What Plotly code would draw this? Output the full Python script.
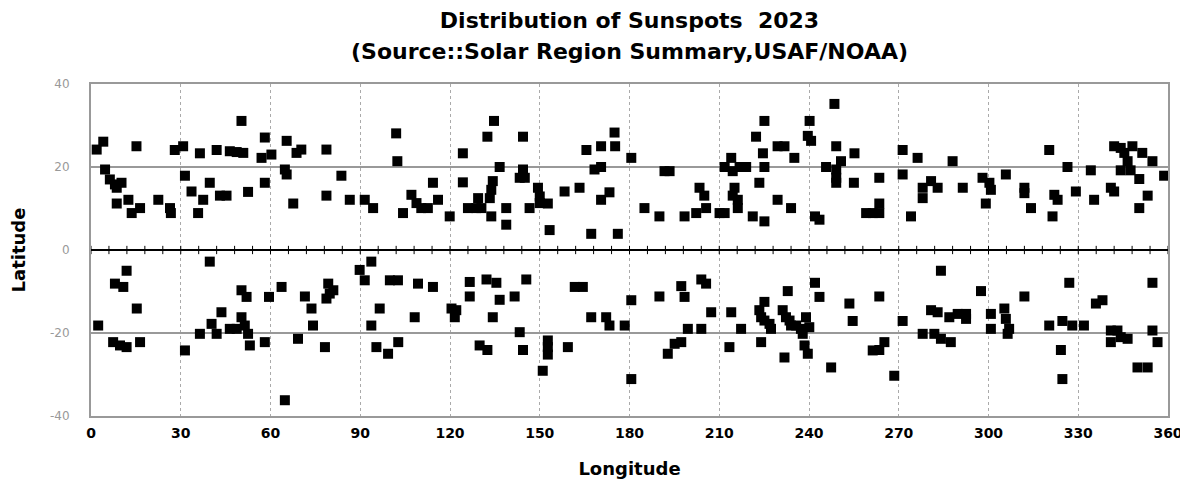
import plotly.graph_objects as go

# Northern hemisphere spots (longitude, latitude)
north_lon = [1.9, 4.1, 4.7, 6.3, 8.0, 10.2, 8.6, 8.6, 12.5, 13.6, 16.4, 15.2, 22.5, 26.4, 26.7,
             28.0, 30.8, 31.4, 33.6, 35.8, 36.4, 37.5, 39.7, 42.0, 43.1, 45.3, 46.4, 48.7, 50.9,
             50.3, 52.5, 57.0, 58.1, 58.1, 60.3, 65.4, 64.8, 65.4, 67.6, 68.7, 70.3, 78.7, 78.7,
             83.7, 86.5, 91.5, 94.3, 102.0, 102.4, 104.3, 107.1, 108.8, 110.4, 112.6, 114.3, 116.0,
             119.9, 124.3, 124.3, 126.0, 128.8, 130.5, 129.4, 133.3, 133.8, 134.3, 133.8, 132.5,
             134.7, 136.6, 138.8, 138.8, 144.4, 144.4, 143.3, 145.0, 146.6, 149.4, 150.0, 150.0,
             152.7, 153.3, 158.3, 163.3, 165.6, 167.2, 168.3, 170.5, 170.5, 170.5, 173.3, 175.0,
             175.2, 176.1, 180.6, 185.0, 190.0, 191.7, 193.4, 198.4, 202.3, 203.4, 205.0, 205.6,
             210.1, 211.8, 211.8, 214.0, 214.5, 216.8, 219.0, 215.1, 214.5, 216.2, 216.2, 221.2,
             222.3, 223.4, 224.6, 225.1, 225.1, 225.1, 229.5, 231.8, 229.5, 234.0, 235.1, 239.6,
             240.2, 240.7, 242.0, 243.5, 245.7, 248.5, 249.1, 249.1, 250.7, 249.1, 249.1, 255.0,
             255.2, 259.1, 261.3, 263.5, 263.5, 263.5, 271.3, 271.3, 274.1, 276.3, 278.0, 278.0,
             280.8, 283.0, 288.0, 291.4, 298.0, 300.3, 299.1, 300.8, 305.8, 312.0, 312.0, 314.2,
             320.3, 321.4, 322.0, 323.1, 326.4, 329.2, 334.2, 335.3, 340.9, 342.0, 342.0, 344.2,
             348.1, 351.4, 354.8, 345.4, 346.5, 344.2, 347.5, 350.4, 353.2, 350.4, 358.7]
north_lat = [24.2, 26.1, 19.4, 17.0, 15.8, 16.2, 15.0, 11.2, 12.1, 8.9, 10.1, 25.0, 12.1, 10.1, 8.9,
             24.1, 25.0, 17.9, 14.1, 8.9, 23.3, 12.1, 16.2, 24.1, 13.1, 13.1, 23.8, 23.6, 23.4,
             31.1, 14.0, 22.2, 27.1, 16.2, 23.0, 26.3, 19.4, 18.2, 11.2, 23.4, 24.2, 24.2, 13.1,
             17.9, 12.1, 12.1, 10.1, 28.1, 21.4, 8.9, 13.3, 11.3, 10.1, 10.1, 16.2, 12.1,
             8.1, 23.3, 16.3, 10.1, 10.1, 10.1, 12.5, 12.5, 14.5, 16.6, 8.1, 27.3,
             31.1, 20.0, 10.1, 6.1, 27.3, 19.4, 17.4, 17.4, 10.1, 15.0, 12.9, 11.3,
             11.2, 4.8, 14.1, 15.0, 24.1, 3.9, 19.4, 20.0, 25.0, 12.1, 13.9, 28.3,
             25.0, 3.9, 22.2, 10.1, 8.1, 19.0, 19.0, 8.1, 8.9, 15.0, 13.1, 10.1,
             8.9, 8.9, 20.0, 22.2, 19.0, 20.0, 20.0, 15.0, 13.1, 12.1, 10.1, 8.1,
             27.3, 16.2, 23.3, 31.1, 20.0, 6.9, 25.0, 25.0, 12.1, 10.1, 22.2, 27.5,
             31.1, 26.3, 8.1, 7.3, 20.0, 35.2, 25.0, 19.4, 21.4, 17.4, 16.2, 16.2,
             23.3, 8.9, 8.9, 8.9, 11.2, 17.4, 24.1, 18.2, 8.1, 22.2, 15.0, 12.5,
             16.6, 15.0, 21.4, 15.0, 17.4, 16.2, 11.2, 14.5, 18.2, 15.0, 13.7, 10.1,
             24.1, 8.1, 13.3, 12.1, 20.0, 14.1, 19.2, 12.1, 15.0, 14.1, 25.0, 24.6,
             25.0, 23.4, 21.4, 23.4, 21.4, 19.2, 19.2, 17.1, 13.1, 10.1, 17.9]

# Southern hemisphere spots (longitude, latitude)
south_lon = [2.4, 7.4, 8.0, 9.7, 10.8, 11.9, 11.9, 15.3, 16.4, 31.4, 36.4, 39.7, 40.3, 42.0, 43.6,
             46.4, 48.7, 50.3, 50.3, 51.4, 52.0, 52.5, 53.1, 58.1, 59.5, 63.7, 64.8, 69.2, 71.5,
             73.7, 74.2, 78.2, 78.7, 79.3, 79.8, 81.0, 89.8, 91.5, 93.7, 93.7, 95.4, 96.5, 99.3,
             99.9, 102.6, 102.7, 108.2, 109.3, 114.3, 120.5, 122.1, 121.6, 126.6, 126.6, 129.9,
             132.2, 132.5, 134.3, 135.5, 136.6, 141.6, 143.3, 144.4, 145.5, 151.0, 152.7, 152.7,
             152.7, 159.4, 161.7, 164.4, 167.2, 172.2, 173.3, 178.4, 180.6, 180.6, 190.0, 192.8,
             195.1, 197.3, 197.3, 198.4, 199.5, 204.0, 204.0, 205.6, 207.3, 213.4, 214.0, 217.3,
             223.4, 224.0, 225.1, 225.1, 226.8, 227.3, 224.0, 231.2, 232.3, 233.5, 234.0, 235.7,
             237.3, 237.9, 231.8, 232.9, 239.0, 240.1, 238.5, 239.6, 242.0, 243.5, 247.4, 253.5,
             254.6, 261.3, 263.5, 265.2, 263.5, 268.5, 271.3, 278.0, 280.8, 281.9, 283.0, 284.1,
             284.1, 286.9, 287.4, 289.7, 292.5, 292.5, 297.5, 300.8, 300.8, 305.3, 305.8, 306.9,
             306.4, 312.0, 320.3, 324.7, 324.2, 324.7, 327.0, 328.0, 331.9, 335.9, 338.1, 340.9,
             343.1, 340.9, 344.2, 346.5, 349.8, 353.2, 354.8, 354.8, 356.5]
south_lat = [-18.2, -22.2, -8.1, -23.0, -8.9, -5.0, -23.4, -14.1, -22.2, -24.2, -20.2, -2.8, -17.8, -20.2, -15.0,
             -19.0, -19.0, -9.7, -16.2, -18.2, -11.3, -20.2, -23.0, -22.2, -11.3, -8.9, -36.2, -21.4, -11.2,
             -14.1, -18.2, -23.4, -11.7, -8.1, -10.5, -9.7, -4.8, -7.3, -2.8, -18.2, -23.4, -14.1, -25.0,
             -7.3, -7.3, -22.2, -16.2, -8.1, -8.9, -14.1, -14.5, -16.2, -7.7, -11.2, -23.0,
             -7.1, -24.1, -16.2, -7.9, -12.0, -11.2, -19.8, -24.1, -7.1, -29.1, -21.8, -23.4,
             -25.2, -23.4, -8.9, -8.9, -16.2, -16.2, -18.2, -18.2, -12.1, -31.1, -11.2, -25.0,
             -22.6, -22.2, -8.7, -11.3, -19.0, -19.0, -7.1, -8.1, -15.0, -23.4, -15.0, -19.0,
             -14.5, -16.2, -12.5, -17.0, -17.8, -19.0, -22.2, -14.5, -16.2, -17.0, -18.2, -18.2,
             -19.0, -20.2, -25.9, -9.9, -16.2, -18.6, -23.0, -25.0, -7.9, -11.3, -28.3, -12.9,
             -17.1, -24.2, -24.1, -22.2, -11.2, -30.3, -17.1, -20.2, -14.5, -20.2, -15.0, -5.0,
             -21.4, -16.2, -22.2, -15.4, -15.4, -16.6, -9.9, -15.4, -19.0, -14.1, -16.6, -19.0,
             -20.2, -11.2, -18.2, -17.1, -24.1, -31.1, -7.9, -18.2, -18.2, -12.9, -12.1, -19.4,
             -19.4, -22.2, -21.0, -21.4, -28.3, -28.3, -7.9, -19.4, -22.2]

x_ticks = [0, 30, 60, 90, 120, 150, 180, 210, 240, 270, 300, 330, 360]
y_ticks = [40, 20, 0, -20, -40]
minor_tick_step = 6  # small tick marks along the equator line

title_line1 = "Distribution of Sunspots \u00a02023"
title_line2 = "(Source::Solar Region Summary,USAF/NOAA)"

font_family = "DejaVu Sans"

# The page body keeps the browser's default 8px margin, so the figure is sized to fit the window.
FIG_W, FIG_H = 1180, 480
M_L, M_R, M_T, M_B = 83, 20, 76, 72
plot_h = FIG_H - M_T - M_B

fig = go.Figure()
marker = dict(symbol="square", size=10, color="black", line=dict(width=0))
fig.add_trace(go.Scatter(x=north_lon, y=north_lat, mode="markers", marker=marker,
                         name="North", showlegend=False))
fig.add_trace(go.Scatter(x=south_lon, y=south_lat, mode="markers", marker=marker,
                         name="South", showlegend=False))

# tick marks crossing the y=0 line (decoration along the axis crossing)
tick_shapes = [
    dict(type="line", xref="x", yref="y", x0=t, x1=t, y0=-1, y1=1,
         line=dict(color="black", width=1), layer="above")
    for t in range(0, 361, minor_tick_step)
]

fig.update_layout(
    width=FIG_W, height=FIG_H,
    margin=dict(l=M_L, r=M_R, t=M_T, b=M_B),
    paper_bgcolor="white", plot_bgcolor="white",
    shapes=tick_shapes,
    title=dict(
        text=title_line1,
        x=0.5, xref="paper", xanchor="center",
        y=1 - 5 / FIG_H, yref="container", yanchor="top",
        font=dict(family=font_family, size=22, color="black", weight="bold"),
    ),
    annotations=[dict(
        text=title_line2, xref="paper", yref="paper", x=0.5,
        y=(FIG_H - M_B - 44) / plot_h,
        xanchor="center", yanchor="middle", showarrow=False,
        font=dict(family=font_family, size=22, color="black", weight="bold"),
    )],
    xaxis=dict(
        range=[0, 360], tickvals=x_ticks, ticktext=[str(v) for v in x_ticks],
        showgrid=True, gridcolor="#aaaaaa", griddash="dot", gridwidth=1,
        showline=True, linecolor="#999999", linewidth=2, mirror=True,
        ticks="", zeroline=False, automargin=False, ticklabeloverflow="allow",
        tickfont=dict(family=font_family, size=14, color="black", weight="bold"),
        ticklabelstandoff=3,
        title=dict(text="Longitude", standoff=23,
                   font=dict(family=font_family, size=18, color="black", weight="bold")),
    ),
    yaxis=dict(
        range=[-40, 40], tickvals=y_ticks, ticktext=[str(v) for v in y_ticks],
        showgrid=True, gridcolor="#999999", gridwidth=1.5,
        zeroline=True, zerolinecolor="black", zerolinewidth=1.5,
        showline=True, linecolor="#999999", linewidth=2, mirror=True,
        ticks="", ticklabelstandoff=17, automargin=False,
        tickfont=dict(family=font_family, size=12, color="#999999"),
        title=dict(text="Latitude", standoff=26,
                   font=dict(family=font_family, size=18, color="black", weight="bold")),
    ),
)

fig.write_html("out.html")
